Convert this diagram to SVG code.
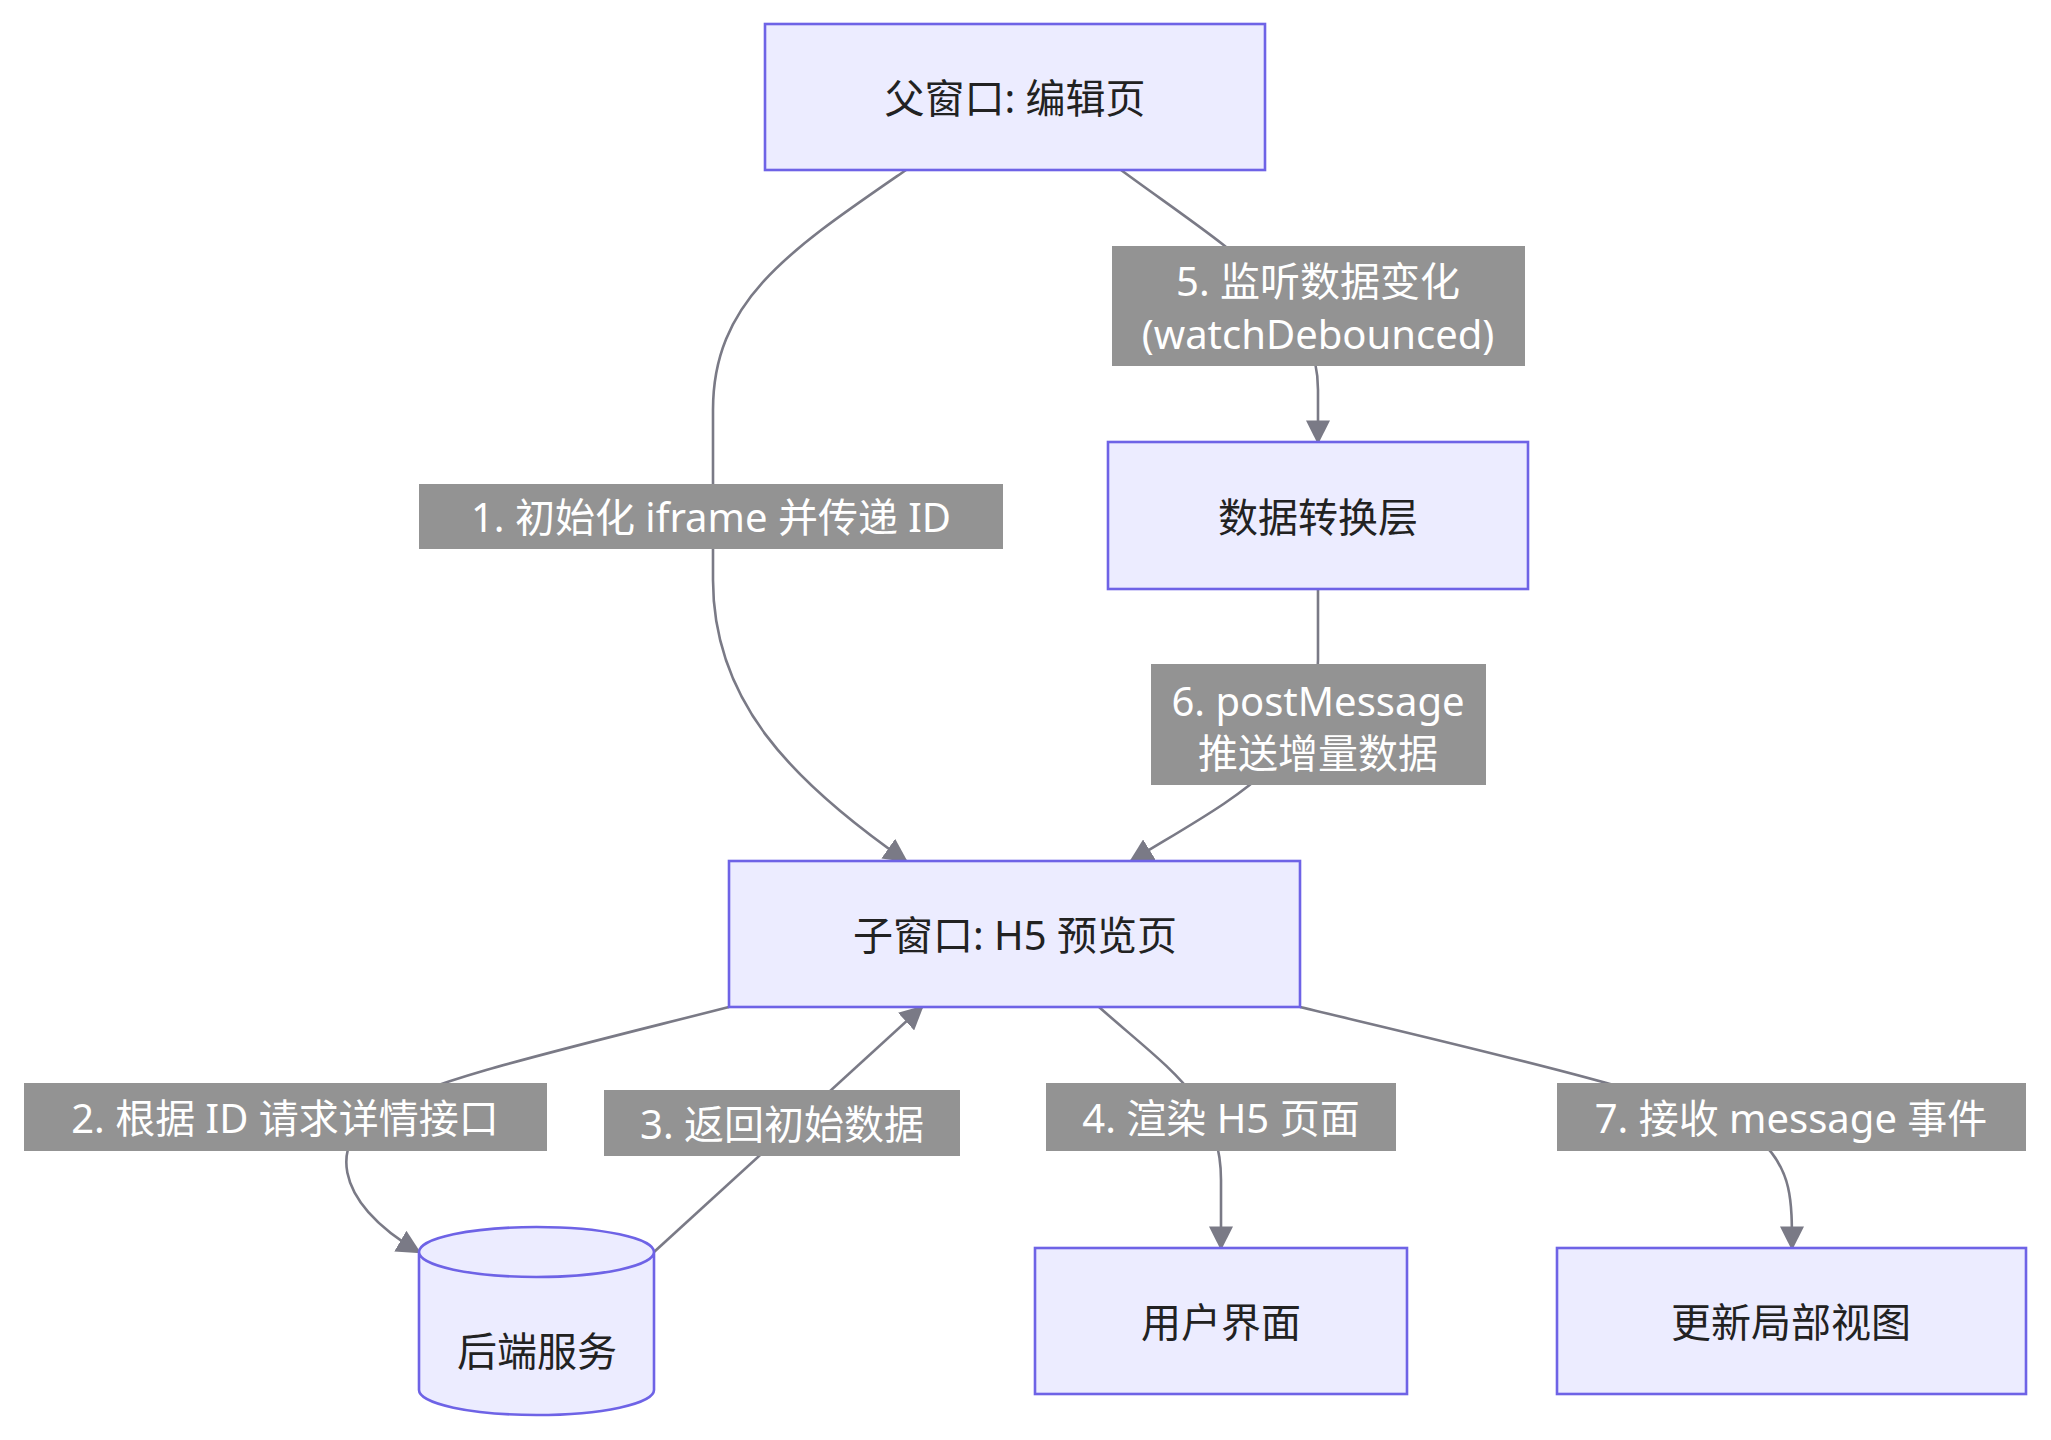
<svg xmlns="http://www.w3.org/2000/svg" width="2051" height="1440" viewBox="0 0 2051 1440">
<style>
.n{fill:#ECECFF;stroke:#6E63E6;stroke-width:2.6}
.t{font-family:"Noto Sans","Noto Sans CJK SC",sans-serif;font-size:40px;fill:#222;text-anchor:middle;dominant-baseline:central}
.lb{fill:#939393}
.lt{font-family:"Noto Sans","Noto Sans CJK SC",sans-serif;font-size:40px;fill:#fff;text-anchor:middle;dominant-baseline:central}
.e{fill:none;stroke:#7a7a86;stroke-width:2.6;marker-end:url(#a)}
</style>
<defs><marker id="a" viewBox="0 0 10 10" refX="9" refY="5" markerWidth="8" markerHeight="8" markerUnits="userSpaceOnUse" orient="auto"><path d="M0,0L10,5L0,10z" fill="#7a7a86"/></marker>
<marker id="a2" viewBox="0 0 10 10" refX="9" refY="5" markerWidth="24" markerHeight="24" markerUnits="userSpaceOnUse" orient="auto"><path d="M0,0L10,5L0,10z" fill="#7a7a86"/></marker></defs>
<g id="edges" style="--m:url(#a2)">
<path class="e" style="marker-end:url(#a2)" d="M906,170 C790,250 713,300 713,410 L713,580 C713,700 790,780 906,861"/>
<path class="e" style="marker-end:url(#a2)" d="M1121,170 C1230,250 1318,300 1318,390 L1318,442"/>
<path class="e" style="marker-end:url(#a2)" d="M1318,589 L1318,660 C1318,760 1230,800 1131,861"/>
<path class="e" style="marker-end:url(#a2)" d="M729,1007 C560,1050 430,1080 380,1110 C330,1140 330,1200 419,1252"/>
<path class="e" style="marker-end:url(#a2)" d="M654,1252 L922,1007"/>
<path class="e" style="marker-end:url(#a2)" d="M1099,1007 C1170,1070 1221,1100 1221,1180 L1221,1248"/>
<path class="e" style="marker-end:url(#a2)" d="M1300,1007 C1500,1055 1700,1100 1760,1140 C1792,1170 1792,1200 1792,1248"/>
<rect class="lb" x="419" y="484" width="584" height="65"/><text class="lt" x="711" y="516">1. 初始化 iframe 并传递 ID</text>
<rect class="lb" x="1112" y="246" width="413" height="120"/><text class="lt" x="1318" y="280">5. 监听数据变化</text><text class="lt" x="1318" y="333">(watchDebounced)</text>
<rect class="lb" x="1151" y="664" width="335" height="121"/><text class="lt" x="1318" y="700">6. postMessage</text><text class="lt" x="1318" y="752">推送增量数据</text>
<rect class="lb" x="24" y="1083" width="523" height="68"/><text class="lt" x="285" y="1117">2. 根据 ID 请求详情接口</text>
<rect class="lb" x="604" y="1090" width="356" height="66"/><text class="lt" x="782" y="1123">3. 返回初始数据</text>
<rect class="lb" x="1046" y="1083" width="350" height="68"/><text class="lt" x="1221" y="1117">4. 渲染 H5 页面</text>
<rect class="lb" x="1557" y="1083" width="469" height="68"/><text class="lt" x="1791" y="1117">7. 接收 message 事件</text>
</g>
<g id="parent"><rect class="n" x="765" y="24" width="500" height="146"/><text class="t" x="1015" y="97">父窗口: 编辑页</text></g>
<g id="transform"><rect class="n" x="1108" y="442" width="420" height="147"/><text class="t" x="1318" y="516">数据转换层</text></g>
<g id="child"><rect class="n" x="729" y="861" width="571" height="146"/><text class="t" x="1015" y="934">子窗口: H5 预览页</text></g>
<g id="backend"><path class="n" d="M419,1252 L419,1390 A117.5,25 0 0 0 654,1390 L654,1252 A117.5,25 0 0 0 419,1252 A117.5,25 0 0 0 654,1252"/><text class="t" x="537" y="1350">后端服务</text></g>
<g id="ui"><rect class="n" x="1035" y="1248" width="372" height="146"/><text class="t" x="1221" y="1321">用户界面</text></g>
<g id="update"><rect class="n" x="1557" y="1248" width="469" height="146"/><text class="t" x="1791" y="1321">更新局部视图</text></g>
</svg>
